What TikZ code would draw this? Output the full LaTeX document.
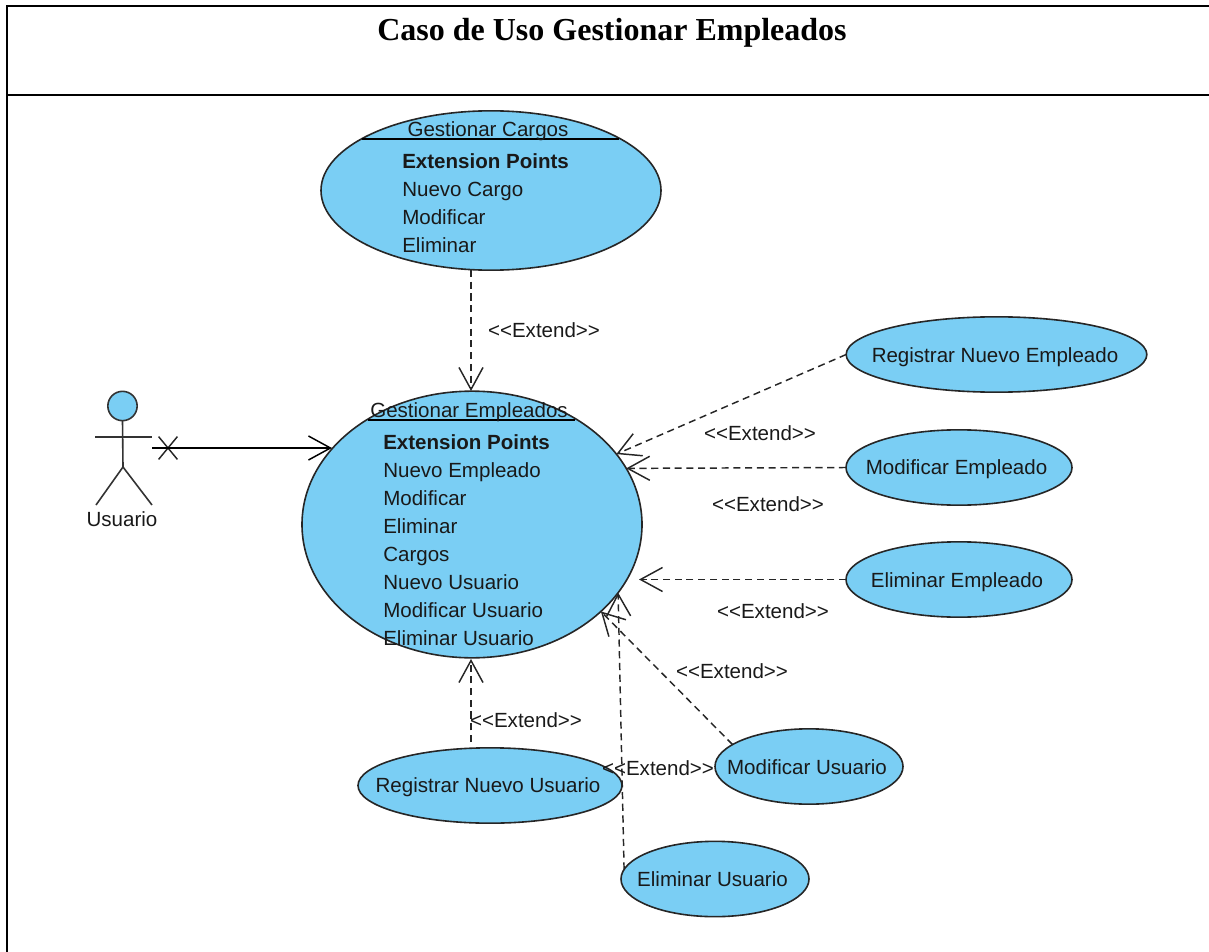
\documentclass[tikz,border=0pt]{standalone}
\usepackage{fontspec}
\setmainfont{Liberation Serif}
\setsansfont{Liberation Sans}
\usetikzlibrary{arrows.meta,shapes.geometric,shapes.misc}
\definecolor{casefill}{RGB}{122,206,244}

\begin{document}
\begin{tikzpicture}[x=0.75pt,y=-0.75pt]
 \tikzset{
UseCase/.style = {ellipse, draw=black!85, line width=1.2pt, fill=casefill, inner sep=0pt, outer sep=0pt},
Small/.style = {UseCase, minimum width=141pt, minimum height=56.5pt},
Wide/.style = {UseCase, minimum height=56.5pt},
Label/.style = {font=\sffamily\fontsize{15.4}{18}\selectfont, inner sep=0pt, text height=12.5pt, text depth=1.5pt, text=black!90},
Point/.style = {Label, anchor=west},
Extend/.style = {Label},
Rule/.style = {draw=black, line width=1.2pt},
Limb/.style = {draw=black!80, line width=1.2pt},
Frame/.style = {draw=black, line width=1.5pt},
extendline/.style = {draw=black!85, line width=1.1pt, dash pattern=on 5.3pt off 3.5pt, -{Straight Barb[length=16.5pt,width=18pt]}}}

\useasboundingbox (0,0) rectangle (1209,952);

      \coordinate (TL) at (7,6);
      \coordinate (TR) at (1209,6);
      \coordinate (BL) at (7,952);
      \coordinate (ML) at (7,95);
      \coordinate (MR) at (1209,95);
      \draw [Frame] (TR) -- (TL) -- (BL);
      \draw [Frame] (ML) -- (MR);
      \node [font=\bfseries\fontsize{24}{28}\selectfont, inner sep=0pt] (Title) at (612,33) {Caso de Uso Gestionar Empleados};

     \node [UseCase, minimum width=255pt, minimum height=119.5pt] (GC) at (491,190.5) {};
     \node [UseCase, minimum width=255pt, minimum height=200pt] (GE) at (472,524.5) {};

     \node [Wide, minimum width=225.5pt] (RE) at (996.5,354.5) {};
     \node [Wide, minimum width=169.5pt] (ME) at (959,467.5) {};
     \node [Wide, minimum width=169.5pt] (EE) at (959,579.5) {};
     \node [Wide, minimum width=198pt] (RU) at (490,785.5) {};
     \node [Small] (MU) at (809,766.5) {};
     \node [Small] (EU) at (715,879) {};

     \node [Label] (REname) at (995,355) {Registrar Nuevo Empleado};
     \node [Label] (MEname) at (956.5,467) {Modificar Empleado};
     \node [Label] (EEname) at (957,580) {Eliminar Empleado};
     \node [Label] (RUname) at (488,785) {Registrar Nuevo Usuario};
     \node [Label] (MUname) at (807,767) {Modificar Usuario};
     \node [Label] (EUname) at (712.5,879) {Eliminar Usuario};

      \coordinate (GC1) at (362,139);
      \coordinate (GC2) at (619,139);
      \coordinate (GE1) at (368,420);
      \coordinate (GE2) at (575,420);
      \draw [Rule] (GC1) -- (GC2);
      \draw [Rule] (GE1) -- (GE2);

     \node [Label] (GCname) at (488,129) {Gestionar Cargos};
     \node [Point, font=\sffamily\bfseries\fontsize{15.4}{18}\selectfont] (GCext) at (402,161) {Extension Points};
     \node [Point] (GC-a) at (402,189) {Nuevo Cargo};
     \node [Point] (GC-b) at (402,217) {Modificar};
     \node [Point] (GC-c) at (402,245) {Eliminar};

     \node [Label] (GEname) at (469,410) {Gestionar Empleados};
     \node [Point, font=\sffamily\bfseries\fontsize{15.4}{18}\selectfont] (GEext) at (383,442) {Extension Points};
     \node [Point] (GE-a) at (383,470) {Nuevo Empleado};
     \node [Point] (GE-b) at (383,498) {Modificar};
     \node [Point] (GE-c) at (383,526) {Eliminar};
     \node [Point] (GE-d) at (383,554) {Cargos};
     \node [Point] (GE-e) at (383,582) {Nuevo Usuario};
     \node [Point] (GE-f) at (383,610) {Modificar Usuario};
     \node [Point] (GE-g) at (383,638) {Eliminar Usuario};

     \node [circle, draw=black!80, line width=1.2pt, fill=casefill, minimum size=22pt, inner sep=0pt, outer sep=0pt] (Head) at (122.5,406) {};
      \coordinate (Hip) at (123,467);
      \coordinate (ArmL) at (95,437);
      \coordinate (ArmR) at (152,437);
      \coordinate (LegL) at (96,505);
      \coordinate (LegR) at (152,505);
      \draw [Limb] (Head.south) -- (Hip);
      \draw [Limb] (ArmL) -- (ArmR);
      \draw [Limb] (LegL) -- (Hip) -- (LegR);
     \node [Label] (Usuario) at (122,519) {Usuario};

     \node [cross out, draw=black!85, line width=1.1pt, minimum width=13pt, minimum height=16pt, inner sep=0pt] (Cross) at (168,448) {};
      \coordinate (Hand) at (152,448);
      \coordinate (GEleft) at (332,448);
      \draw [line width=1.1pt, -{Straight Barb[length=16.5pt,width=18pt]}] (Hand) -- (GEleft);

      \coordinate (GCout) at (471,270);
      \coordinate (GEin) at (471,391);
      \coordinate (RUout) at (471,742);
      \coordinate (GEout) at (471,659);
      \coordinate (EEin) at (639,579.5);

      \draw [extendline] (GCout) -- (GEin);
      \draw [extendline] (RE.west) -- (GE.26);
      \draw [extendline] (ME.west) -- (GE.20.6);
      \draw [extendline] (EE.west) -- (EEin);
      \draw [extendline] (MU.164.6) -- (GE.-34.9);
      \draw [extendline] (EU.174.4) -- (GE.-25.6);
      \draw [extendline] (RUout) -- (GEout);

     \node [Extend] (L1) at (544,330) {<{}<Extend>{}>};
     \node [Extend] (L2) at (760,433) {<{}<Extend>{}>};
     \node [Extend] (L3) at (768,504) {<{}<Extend>{}>};
     \node [Extend] (L4) at (773,611) {<{}<Extend>{}>};
     \node [Extend] (L5) at (732,671) {<{}<Extend>{}>};
     \node [Extend] (L6) at (526,720) {<{}<Extend>{}>};
     \node [Extend] (L7) at (658,768) {<{}<Extend>{}>};

  \end{tikzpicture}
\end{document}
